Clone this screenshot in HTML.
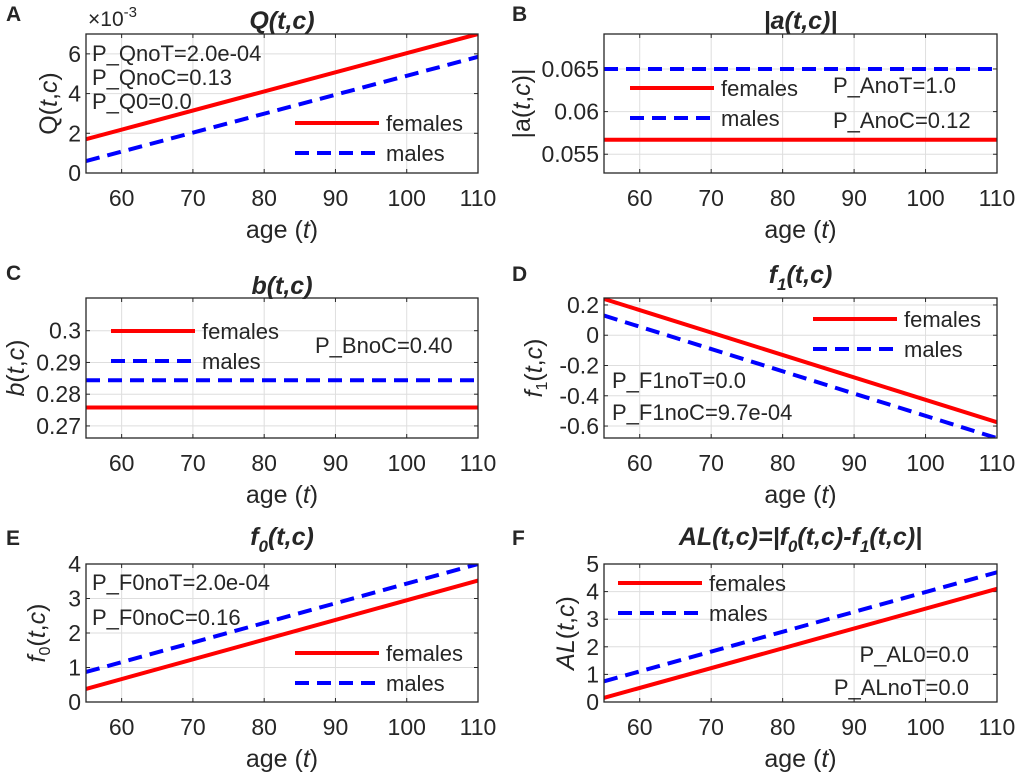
<!DOCTYPE html>
<html><head><meta charset="utf-8"><style>
body{margin:0;background:#fff}
svg text{font-family:"Liberation Sans",Arial,sans-serif;fill:#262626}
</style></head><body>
<svg id="c" width="1020" height="776" viewBox="0 0 1020 776" xmlns="http://www.w3.org/2000/svg"></svg>
<script>
const ages=[55,110];
const femalesQ=[1.7,7.0], malesQ=[0.6,5.85];
const femalesA=[0.0567,0.0567], malesA=[0.0650,0.0650];
const femalesB=[0.2758,0.2758], malesB=[0.2844,0.2844];
const femalesF1=[0.24,-0.575], malesF1=[0.13,-0.68];
const femalesF0=[0.38,3.52], malesF0=[0.87,4.0];
const femalesAL=[0.15,4.1], malesAL=[0.75,4.7];
const xTicks=[60,70,80,90,100,110];
const yTicksQ=[0,2,4,6], yTicksA=[0.055,0.06,0.065], yTicksB=[0.27,0.28,0.29,0.3];
const yTicksF1=[-0.6,-0.4,-0.2,0,0.2], yTicksF0=[0,1,2,3,4], yTicksAL=[0,1,2,3,4,5];

const NS="http://www.w3.org/2000/svg";
const svg=document.getElementById('c');
function el(t,a,p){const e=document.createElementNS(NS,t);for(const k in a)e.setAttribute(k,a[k]);(p||svg).appendChild(e);return e;}

const panels=[
 {id:'a',L:'A',x0:86,x1:478,y0:34,y1:173,ymin:0,ymax:7,yt:yTicksQ,f:femalesQ,m:malesQ,
  yl:'Q(<tspan font-style="italic">t</tspan>,<tspan font-style="italic">c</tspan>)',ylx:48,lx:295,ly:[123,153],ann:[['P_QnoT=2.0e-04',92,61],['P_QnoC=0.13',92,85],['P_Q0=0.0',92,109]],anchor:'start',lett:[6,21],fmt:v=>String(v)},
 {id:'b',L:'B',x0:604,x1:997,y0:34,y1:173,ymin:0.0528,ymax:0.0691,yt:yTicksA,f:femalesA,m:malesA,
  yl:'|a(<tspan font-style="italic">t</tspan>,<tspan font-style="italic">c</tspan>)|',ylx:521,lx:630,ly:[88,118],ann:[['P_AnoT=1.0',833,93],['P_AnoC=0.12',833,128]],anchor:'start',lett:[512,21],fmt:v=>String(v)},
 {id:'c',L:'C',x0:86,x1:478,y0:298,y1:438,ymin:0.2662,ymax:0.3103,yt:yTicksB,f:femalesB,m:malesB,
  yl:'<tspan font-style="italic">b</tspan>(<tspan font-style="italic">t</tspan>,<tspan font-style="italic">c</tspan>)',ylx:15,lx:111,ly:[331,361],ann:[['P_BnoC=0.40',315,353]],anchor:'start',lett:[6,280],fmt:v=>String(v)},
 {id:'d',L:'D',x0:604,x1:997,y0:298,y1:438,ymin:-0.679,ymax:0.246,yt:yTicksF1,f:femalesF1,m:malesF1,
  yl:'<tspan font-style="italic">f</tspan><tspan font-size="16" dy="5">1</tspan><tspan dy="-5">(</tspan><tspan font-style="italic">t</tspan>,<tspan font-style="italic">c</tspan>)',ylx:533,lx:813,ly:[319,349],ann:[['P_F1noT=0.0',612,388],['P_F1noC=9.7e-04',612,420]],anchor:'start',lett:[512,281],fmt:v=>String(v)},
 {id:'e',L:'E',x0:86,x1:478,y0:564,y1:702,ymin:0,ymax:4,yt:yTicksF0,f:femalesF0,m:malesF0,
  yl:'<tspan font-style="italic">f</tspan><tspan font-size="16" dy="5">0</tspan><tspan dy="-5">(</tspan><tspan font-style="italic">t</tspan>,<tspan font-style="italic">c</tspan>)',ylx:36,lx:295,ly:[653,683],ann:[['P_F0noT=2.0e-04',92,590],['P_F0noC=0.16',92,625]],anchor:'start',lett:[6,545],fmt:v=>String(v)},
 {id:'f',L:'F',x0:604,x1:997,y0:564,y1:702,ymin:0,ymax:5,yt:yTicksAL,f:femalesAL,m:malesAL,
  yl:'<tspan font-style="italic">AL</tspan>(<tspan font-style="italic">t</tspan>,<tspan font-style="italic">c</tspan>)',ylx:565,lx:618,ly:[583,613],ann:[['P_AL0=0.0',969,662],['P_ALnoT=0.0',969,695]],anchor:'end',lett:[512,545],fmt:v=>String(v)}
];
const titles={
 a:'Q(t,c)',b:'|a(t,c)|',c:'b(t,c)',
 d:'f<tspan font-size="17" dy="7">1</tspan><tspan dy="-7">(t,c)</tspan>',
 e:'f<tspan font-size="17" dy="7">0</tspan><tspan dy="-7">(t,c)</tspan>',
 f:'AL(t,c)=|f<tspan font-size="17" dy="7">0</tspan><tspan dy="-7">(t,c)-f</tspan><tspan font-size="17" dy="7">1</tspan><tspan dy="-7">(t,c)|</tspan>'
};
const titleY={a:29,b:29,c:294,d:283,e:545,f:545};

panels.forEach(p=>{
 const g=el('g',{});
 
 
 const X=v=>p.x0+(v-ages[0])/(ages[1]-ages[0])*(p.x1-p.x0);
 const Y=v=>p.y1-(v-p.ymin)/(p.ymax-p.ymin)*(p.y1-p.y0);
 el('rect',{x:p.x0,y:p.y0,width:p.x1-p.x0,height:p.y1-p.y0,fill:'#fff'},g);
 xTicks.forEach(t=>{
  const gl=el('line',{x1:X(t),x2:X(t),y1:p.y0,y2:p.y1,stroke:'#dedede','stroke-width':1},g);
  
  
  el('line',{x1:X(t),x2:X(t),y1:p.y1,y2:p.y1-4,stroke:'#262626'},g);
  el('line',{x1:X(t),x2:X(t),y1:p.y0,y2:p.y0+4,stroke:'#262626'},g);
  const tx=el('text',{x:X(t),y:p.y1+33,'font-size':23,'text-anchor':'middle'},g);tx.textContent=t;
  
  
 });
 p.yt.forEach(t=>{
  const gl=el('line',{x1:p.x0,x2:p.x1,y1:Y(t),y2:Y(t),stroke:'#dedede','stroke-width':1},g);
  
  
  el('line',{x1:p.x0,x2:p.x0+4,y1:Y(t),y2:Y(t),stroke:'#262626'},g);
  el('line',{x1:p.x1,x2:p.x1-4,y1:Y(t),y2:Y(t),stroke:'#262626'},g);
  const tx=el('text',{x:p.x0-5,y:Y(t)+8,'font-size':23,'text-anchor':'end'},g);tx.textContent=p.fmt(t);
  
  
 });
 const cp=el('clipPath',{id:'cp'+p.id},g);
 el('rect',{x:p.x0,y:p.y0,width:p.x1-p.x0,height:p.y1-p.y0},cp);
 const fl=el('line',{x1:X(ages[0]),y1:Y(p.f[0]),x2:X(ages[1]),y2:Y(p.f[1]),stroke:'#ff0000','stroke-width':4,'clip-path':'url(#cp'+p.id+')'},g);
 
 
 const ml=el('line',{x1:X(ages[0]),y1:Y(p.m[0]),x2:X(ages[1]),y2:Y(p.m[1]),stroke:'#0000ff','stroke-width':4,'stroke-dasharray':'14 8','clip-path':'url(#cp'+p.id+')'},g);
 
 
 el('rect',{x:p.x0,y:p.y0,width:p.x1-p.x0,height:p.y1-p.y0,fill:'none',stroke:'#262626','stroke-width':1.3},g);
 const lg=el('g',{},g);
 
 
 el('line',{x1:p.lx,x2:p.lx+84,y1:p.ly[0],y2:p.ly[0],stroke:'#ff0000','stroke-width':4},lg);
 el('line',{x1:p.lx,x2:p.lx+84,y1:p.ly[1],y2:p.ly[1],stroke:'#0000ff','stroke-width':4,'stroke-dasharray':'14 8'},lg);
 let t1=el('text',{x:p.lx+91,y:p.ly[0]+8,'font-size':22},lg);t1.textContent='females';
 let t2=el('text',{x:p.lx+91,y:p.ly[1]+8,'font-size':22},lg);t2.textContent='males';
 p.ann.forEach(a=>{const t=el('text',{x:a[1],y:a[2],'font-size':22,'text-anchor':p.anchor},g);t.textContent=a[0];
  
  });
 const xl=el('text',{x:(p.x0+p.x1)/2,y:p.y1+65,'font-size':25,'text-anchor':'middle'},g);
 xl.innerHTML='age (<tspan font-style="italic">t</tspan>)';
 
 
 const cy=(p.y0+p.y1)/2;
 const yl=el('text',{x:p.ylx,y:cy,'font-size':25,'text-anchor':'middle',transform:'rotate(-90 '+p.ylx+' '+cy+')',dy:9},g);
 yl.innerHTML=p.yl;
 
 
 const tt=el('text',{x:(p.x0+p.x1)/2,y:titleY[p.id],'font-size':25,'font-weight':'bold','font-style':'italic','text-anchor':'middle'},g);
 tt.innerHTML=titles[p.id];
 
 
 const lt=el('text',{x:p.lett[0],y:p.lett[1],'font-size':21,'font-weight':'bold'},g);lt.textContent=p.L;
 
 
});
const ex=el('text',{x:88,y:26,'font-size':21});
ex.innerHTML='×10<tspan font-size="15" dy="-9">-3</tspan>';


</script>
</body></html>
